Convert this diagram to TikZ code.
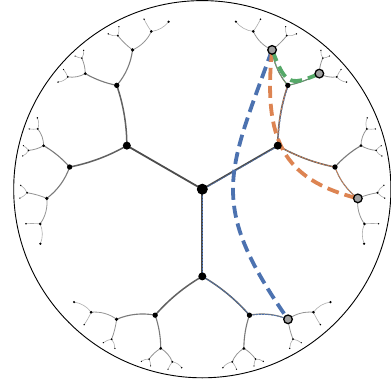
\documentclass[tikz,border=0pt]{standalone}
\usetikzlibrary{calc}
\definecolor{cblue}{HTML}{4C72B0}
\definecolor{corange}{HTML}{DD8452}
\definecolor{cgreen}{HTML}{55A868}
\definecolor{nodegray}{HTML}{A0A0A0}
\def\CX{202.3}
\def\CY{-189.2}
\def\RR{188.6}
\def\TT{0.462117}
\def\MAXL{5}
\gdef\dotlist{}

% Moebius map T_p(w) = (w-p)/(1-conj(p) w); result in \mx,\my
\newcommand\mob[4]{%
 \pgfmathsetmacro\mdr{1-(#1)*(#3)-(#2)*(#4)}%
 \pgfmathsetmacro\mdi{(#2)*(#3)-(#1)*(#4)}%
 \pgfmathsetmacro\mnr{(#3)-(#1)}%
 \pgfmathsetmacro\mni{(#4)-(#2)}%
 \pgfmathsetmacro\mdd{(\mdr)*(\mdr)+(\mdi)*(\mdi)}%
 \pgfmathsetmacro\mx{((\mnr)*(\mdr)+(\mni)*(\mdi))/(\mdd)}%
 \pgfmathsetmacro\my{((\mni)*(\mdr)-(\mnr)*(\mdi))/(\mdd)}%
}
\newcommand\setnode[3]{%
 \expandafter\xdef\csname hx@#1\endcsname{#2}%
 \expandafter\xdef\csname hy@#1\endcsname{#3}%
 \pgfmathsetmacro\px{\CX+\RR*(#2)}%
 \pgfmathsetmacro\py{\CY+\RR*(#3)}%
 \coordinate (#1) at (\px,\py);
 \pgfmathsetmacro\rad{max(0.6,4.6*(1-(#2)*(#2)-(#3)*(#3))+0.4)}%
 \xdef\dotlist{\unexpanded\expandafter{\dotlist}\noexpand\dotat{#1}{\rad}}%
}
\newcommand\geo[3]{%
 \edef\gax{\csname hx@#1\endcsname}\edef\gay{\csname hy@#1\endcsname}%
 \edef\gbx{\csname hx@#2\endcsname}\edef\gby{\csname hy@#2\endcsname}%
 \mob{\gax}{\gay}{\gbx}{\gby}%
 \pgfmathsetmacro\gta{atan2(\my,\mx)}%
 \mob{\gbx}{\gby}{\gax}{\gay}%
 \pgfmathsetmacro\gtb{atan2(\my,\mx)}%
 \pgfmathsetmacro\gdx{(\gbx)-(\gax)}%
 \pgfmathsetmacro\gdy{(\gby)-(\gay)}%
 \pgfmathsetmacro\gL{\RR*veclen(\gdx,\gdy)}%
 \pgfmathsetmacro\gch{atan2(\gdy,\gdx)}%
 \pgfmathsetmacro\gh{2*\gL/(3*(1+cos((\gta)-(\gch))))}%
 \draw[#3] (#1) .. controls ($(#1)+(\gta:\gh)$) and ($(#2)+(\gtb:\gh)$) .. (#2);
}
\newcommand\hnode[5]{%
 \ifnum#5<\MAXL\relax
  \hchild{#1}{#2}{#3}{#4}{#5}{-60}{a}%
  \hchild{#1}{#2}{#3}{#4}{#5}{60}{b}%
 \fi}
\newcommand\hchild[7]{%
 \begingroup
 \pgfmathsetmacro\ua{(#4)+(#6)}%
 \pgfmathsetmacro\ux{\TT*cos(\ua)}%
 \pgfmathsetmacro\uy{\TT*sin(\ua)}%
 \pgfmathsetmacro\nzx{-(#2)}%
 \pgfmathsetmacro\nzy{-(#3)}%
 \mob{\nzx}{\nzy}{\ux}{\uy}%
 \let\cx\mx\let\cy\my
 \mob{\cx}{\cy}{#2}{#3}%
 \pgfmathsetmacro\cdir{atan2(-(\my),-(\mx))}%
 \setnode{#1#7}{\cx}{\cy}%
 \pgfmathtruncatemacro\lev{#5+1}%
 \edef\next{\noexpand\geo{#1}{#1#7}{lev\lev}\noexpand\hnode{#1#7}{\cx}{\cy}{\cdir}{\lev}}%
 \next
 \endgroup}
\newcommand\rootchild[2]{%
 \begingroup
 \pgfmathsetmacro\cx{\TT*cos(#2)}%
 \pgfmathsetmacro\cy{\TT*sin(#2)}%
 \setnode{t#1}{\cx}{\cy}%
 \edef\next{\noexpand\geo{r}{t#1}{lev1}\noexpand\hnode{t#1}{\cx}{\cy}{#2}{1}}%
 \next
 \endgroup}
\newcommand\dotat[2]{\fill[black] (#1) circle[radius=#2pt];}

\begin{document}
\begin{tikzpicture}[x=1pt,y=1pt,
  lev1/.style={line width=1.8pt,black!70,line cap=round},
  lev2/.style={line width=1.5pt,black!62,line cap=round},
  lev3/.style={line width=1.1pt,black!52,line cap=round},
  lev4/.style={line width=0.8pt,black!42,line cap=round},
  lev5/.style={line width=0.6pt,black!32,line cap=round},
  ovb/.style={cblue,line width=0.7pt,dash pattern=on 2pt off 1pt},
  ovo/.style={corange,line width=0.7pt,dash pattern=on 2pt off 1pt},
  ovg/.style={cgreen,line width=0.7pt,dash pattern=on 2pt off 1pt},
  dsh/.style={line width=3.8pt,dash pattern=on 12pt off 6pt},
  hl/.style={fill=nodegray,draw=black,line width=1.3pt}]
\useasboundingbox (0,0) rectangle (391,-383);
\coordinate (O) at (\CX,\CY);
\draw[line width=0.9pt] (O) circle[radius=\RR pt];
\setnode{r}{0}{0}
\rootchild{0}{30}
\rootchild{1}{150}
\rootchild{2}{270}
% tree paths
\begin{scope}[transform canvas={xshift=0.5pt,yshift=-0.4pt}]
\geo{t0b}{t0bb}{ovb}
\geo{t0}{t0b}{ovb}
\geo{r}{t0}{ovb}
\geo{r}{t2}{ovb}
\geo{t2}{t2b}{ovb}
\geo{t2b}{t2bb}{ovb}
\end{scope}
\geo{t0b}{t0bb}{ovo}
\geo{t0}{t0b}{ovo}
\geo{t0}{t0a}{ovo}
\geo{t0a}{t0aa}{ovo}
\geo{t0b}{t0bb}{ovg}
\geo{t0b}{t0ba}{ovg}
% geodesics
\draw[dsh,cblue] (t0bb) .. controls +(-44.2,-122.7) and +(-81.2,116) .. (t2bb);
\draw[dsh,corange] (t0bb) .. controls +(-9,-90) and +(-75,19) .. (t0aa);
\draw[dsh,cgreen] (t0bb) .. controls +(12.8,-32) and +(-32,-14.4) .. (t0ba);
% dots
\dotlist
\fill[black] (r) circle[radius=5.5pt];
\foreach \n in {t0bb,t0ba,t0aa,t2bb} \draw[hl] (\n) circle[radius=4.3pt];
\end{tikzpicture}
\end{document}
